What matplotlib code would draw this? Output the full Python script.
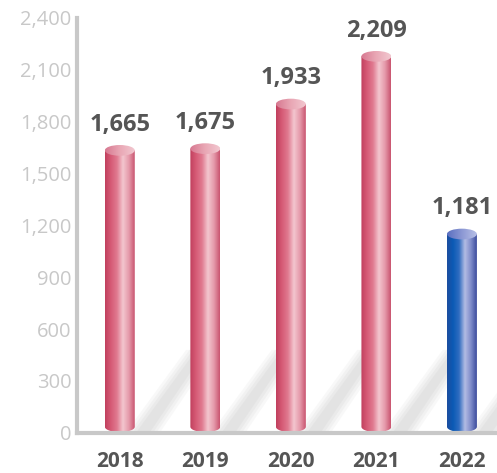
import numpy as np
import matplotlib.pyplot as plt
from matplotlib.colors import LinearSegmentedColormap
from matplotlib.patches import Ellipse, PathPatch, Polygon
from matplotlib.path import Path

plt.rcParams['font.family'] = ['Open Sans', 'DejaVu Sans']

years = ['2018', '2019', '2020', '2021', '2022']
values = [1665, 1675, 1933, 2209, 1181]
labels = ['1,665', '1,675', '1,933', '2,209', '1,181']
yticks = [0, 300, 600, 900, 1200, 1500, 1800, 2100, 2400]

pink = LinearSegmentedColormap.from_list('pink', ['#c03f5d', '#d65b76', '#e07a90', '#f3c6cf', '#e59aab', '#c9546f'])
blue = LinearSegmentedColormap.from_list('blue', ['#1d4d9f', '#0b5ab5', '#2f6cc0', '#b3bce4', '#7f8cca', '#3b4b9c'])
pink_top = LinearSegmentedColormap.from_list('pt', ['#d77890', '#e9a7b5', '#f2c8d0'])
blue_top = LinearSegmentedColormap.from_list('bt', ['#5a6fc0', '#8c98d4', '#b8c0e6'])

fig = plt.figure(figsize=(4.97, 4.73), dpi=100)
ax = fig.add_axes([0.155, 0.085, 0.845, 0.877])
ax.set_xlim(-0.5, 4.41)
ax.set_ylim(0, 2400)

w = 0.35
eh = 62  # ellipse height in data units
grad = np.linspace(0, 1, 256).reshape(1, -1)

for i, v in enumerate(values):
    cm = blue if i == 4 else pink
    cmt = blue_top if i == 4 else pink_top
    x0, x1 = i - w / 2, i + w / 2
    ytop = v - eh / 2
    ybot = eh / 2 + 4
    # soft diagonal shadow (stacked faint bands)
    for k, a in enumerate([0.05, 0.05, 0.06, 0.06]):
        d = 0.04 * k
        sh = Polygon([(x1 - 0.1 + d, 5), (x1 + 0.3 - d, 5),
                      (x1 + 0.95 - d, 480), (x1 + 0.6 + d, 480)],
                     closed=True, facecolor='#808080', edgecolor='none', alpha=a, zorder=1)
        ax.add_patch(sh)
    # body path: rectangle + bottom half ellipse
    t = np.linspace(np.pi, 2 * np.pi, 40)
    bx = i + (w / 2) * np.cos(t)
    by = ybot + (eh / 2) * np.sin(t)
    verts = [(x0, ytop)] + list(zip(bx, by)) + [(x1, ytop), (x0, ytop)]
    patch = PathPatch(Path(verts, closed=True), facecolor='none', edgecolor='none')
    ax.add_patch(patch)
    im = ax.imshow(grad, cmap=cm, aspect='auto', extent=(x0, x1, 0, v), zorder=2)
    im.set_clip_path(patch)
    top = Ellipse((i, ytop), w, eh, facecolor='none', edgecolor='none')
    ax.add_patch(top)
    imt = ax.imshow(grad, cmap=cmt, aspect='auto', extent=(x0, x1, ytop - eh, ytop + eh), zorder=3)
    imt.set_clip_path(top)
    ax.annotate(labels[i], (i, v), xytext=(0, 6), textcoords='offset points',
                ha='center', va='bottom', fontsize=17, fontweight='bold', color='#555555')

for s in ['top', 'right']:
    ax.spines[s].set_visible(False)
for s in ['left', 'bottom']:
    ax.spines[s].set_color('#c8c8c8')
    ax.spines[s].set_linewidth(3)
ax.set_xticks(range(5))
ax.set_xticklabels(years, fontsize=15, fontweight='bold', color='#555555')
ax.set_yticks(yticks)
ax.set_yticklabels([f'{t:,}' for t in yticks], fontsize=14.5, color='#c8c8c8')
ax.tick_params(axis='y', length=0, pad=4)
ax.tick_params(axis='x', length=0, pad=13)

fig.savefig('out.png', dpi=100)
